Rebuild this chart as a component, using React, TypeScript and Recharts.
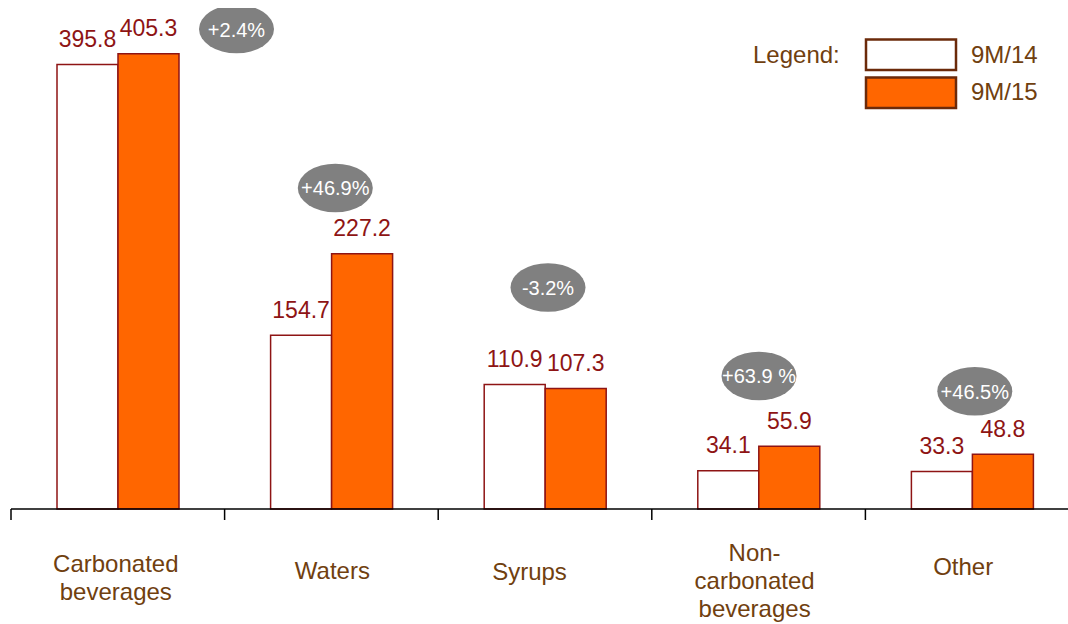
import React from 'react';
import { ComposedChart, Bar, XAxis, YAxis, LabelList, ReferenceDot, Legend } from 'recharts';

// ---- data ----
const categories = ['Carbonated beverages', 'Waters', 'Syrups', 'Non-carbonated beverages', 'Other'];
const categoryLines = [['Carbonated', 'beverages'], ['Waters'], ['Syrups'], ['Non-', 'carbonated', 'beverages'], ['Other']];
const values9M14 = [395.8, 154.7, 110.9, 34.1, 33.3];
const values9M15 = [405.3, 227.2, 107.3, 55.9, 48.8];
const growthLabels = ['+2.4%', '+46.9%', '-3.2%', '+63.9 %', '+46.5%'];
const growthBubbleLevel = [427.3, 285.8, 197.2, 118.4, 104.8];
const seriesNames = ['9M/14', '9M/15'];

// ---- layout / style ----
const FONT = '"Liberation Sans", Arial, Helvetica, sans-serif';
const CHART_W = 1071;
const CHART_H = 616;
const MARGIN = { top: 0, right: 0, bottom: 0, left: 3 };
const BAND = (CHART_W - MARGIN.left - MARGIN.right) / categories.length;
const bubbleDx = [118.7, 3.9, 3, 0.4, 2.6];
const labelDx = [-2, 1, -15.5, -4, -9];
const labelFirstBaseline = [63, 70, 71, 52, 66];
const LINE_H = 28;
const RED = '#8E1414';
const BROWN = '#70400F';
const ORANGE = '#FF6600';
const LEGEND_STROKE = '#6B2A0A';

const data = categories.map((c, i) => ({
  category: c,
  a: values9M14[i],
  b: values9M15[i],
}));

const CategoryTick = (props: any) => {
  const { x, y, payload } = props;
  const i = categories.indexOf(payload.value);
  const lines = categoryLines[i] || [payload.value];
  const tx = x + labelDx[i];
  return (
    <g>
      <line x1={x - BAND / 2} x2={x - BAND / 2} y1={y} y2={y + 11} stroke="#000" strokeWidth={1.5} />
      <text x={tx} y={y + labelFirstBaseline[i]} textAnchor="middle" fill={BROWN} fontSize={24} fontFamily={FONT}>
        {lines.map((l, k) => (
          <tspan key={k} x={tx} dy={k === 0 ? 0 : LINE_H}>
            {l}
          </tspan>
        ))}
      </text>
    </g>
  );
};

const ValueLabel = (p: any) => {
  const { x, y, width, value } = p;
  return (
    <text x={x + width / 2} y={y - 17.5} textAnchor="middle" fill={RED} fontSize={23} fontFamily={FONT}>
      {Number(value).toFixed(1)}
    </text>
  );
};

const makeBubble = (i: number) => (p: any) => {
  const cx = p.cx + bubbleDx[i];
  const cy = p.cy;
  return (
    <g>
      <ellipse cx={cx} cy={cy} rx={37.5} ry={24.3} fill="#808080" />
      <text x={cx} y={cy + 7.5} textAnchor="middle" fill="#FFFFFF" fontSize={20} fontFamily={FONT}>
        {growthLabels[i]}
      </text>
    </g>
  );
};

const LegendContent = (props: any) => {
  const payload = props.payload || [];
  return (
    <svg width={320} height={90} style={{ display: 'block' }}>
      <text x={8} y={33} fill={BROWN} fontSize={24} fontFamily={FONT}>
        Legend:
      </text>
      {payload.map((e: any, k: number) => (
        <g key={k}>
          <rect x={121} y={k === 0 ? 9.5 : 47.5} width={90} height={30.5} fill={e.color} stroke={LEGEND_STROKE} strokeWidth={2.5} />
          <text x={226} y={k === 0 ? 32.5 : 70} fill={BROWN} fontSize={24} fontFamily={FONT}>
            {e.value}
          </text>
        </g>
      ))}
    </svg>
  );
};

export default function App() {
  return (
    <div style={{ position: 'fixed', left: 8, top: 8, width: 1060, height: 616, overflow: 'hidden', background: '#fff' }}>
      <ComposedChart width={CHART_W} height={CHART_H} data={data} margin={MARGIN} barGap={0}>
        <XAxis
          dataKey="category"
          interval={0}
          height={115}
          tickLine={false}
          tickSize={0}
          tickMargin={0}
          axisLine={{ stroke: '#000', strokeWidth: 1.5 }}
          tick={<CategoryTick />}
        />
        <YAxis hide domain={[0, 446]} />
        <Legend
          layout="horizontal"
          verticalAlign="middle"
          align="center"
          wrapperStyle={{ position: 'absolute', left: 737, top: 22, width: 320, height: 90 }}
          content={<LegendContent />}
        />
        <Bar dataKey="a" name={seriesNames[0]} fill="#FFFFFF" stroke={RED} strokeWidth={1.5} barSize={61} isAnimationActive={false}>
          <LabelList dataKey="a" content={<ValueLabel />} />
        </Bar>
        <Bar dataKey="b" name={seriesNames[1]} fill={ORANGE} stroke={RED} strokeWidth={1.5} barSize={61} isAnimationActive={false}>
          <LabelList dataKey="b" content={<ValueLabel />} />
        </Bar>
        {categories.map((c, i) => (
          <ReferenceDot key={c} x={c} y={growthBubbleLevel[i]} ifOverflow="visible" shape={makeBubble(i)} />
        ))}
      </ComposedChart>
    </div>
  );
}
